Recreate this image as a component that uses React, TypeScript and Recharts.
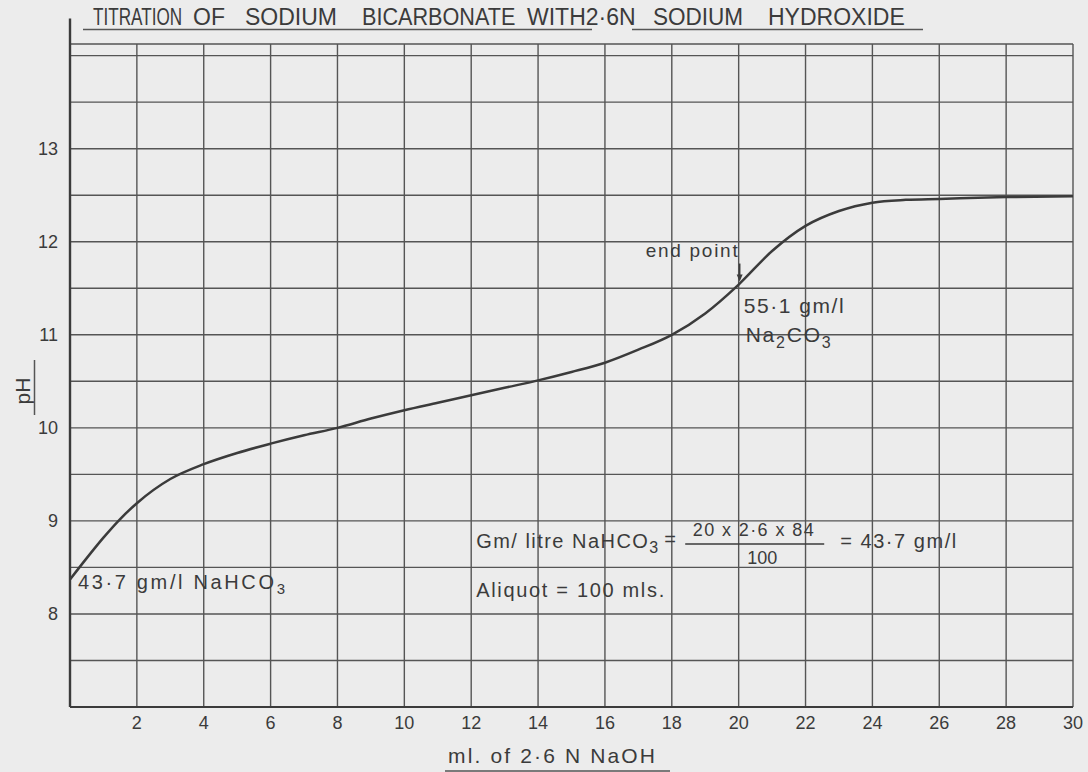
import React from 'react';
import {
  LineChart,
  Line,
  XAxis,
  YAxis,
  CartesianGrid,
  ReferenceLine,
  ReferenceDot,
} from 'recharts';

// ml of 2.6 N NaOH added
const mlValues = [0, 0.5, 1, 1.5, 2, 3, 4, 5, 6, 7, 8, 9, 10, 11, 12, 13, 14, 15, 16, 17, 18, 19, 20, 21, 22, 23, 24, 25, 26, 28, 30];
// measured pH
const phValues = [8.37, 8.6, 8.82, 9.02, 9.19, 9.45, 9.61, 9.73, 9.83, 9.92, 10.0, 10.1, 10.19, 10.27, 10.35, 10.43, 10.51, 10.6, 10.7, 10.84, 11.0, 11.23, 11.54, 11.9, 12.17, 12.33, 12.42, 12.45, 12.46, 12.48, 12.49];

const xTicks = [0, 2, 4, 6, 8, 10, 12, 14, 16, 18, 20, 22, 24, 26, 28, 30];
const yTicks = [7, 7.5, 8, 8.5, 9, 9.5, 10, 10.5, 11, 11.5, 12, 12.5, 13, 13.5, 14];
const yLabelled = [8, 9, 10, 11, 12, 13];

const endPoint = { ml: 20, ph: 11.54 };
const startPoint = { ml: 0, ph: 8.37 };
const formulaAnchor = { ml: 12.15, ph: 8.71 };

const data = mlValues.map((ml, i) => ({ ml, ph: phValues[i] }));

const INK = '#3b3b3b';
const GRID = '#555555';
const FONT = '"Liberation Sans", Arial, sans-serif';

const titleWords: { t: string; x: number; sx: number }[] = [
  { t: 'TITRATION', x: 93, sx: 0.745 },
  { t: 'OF', x: 193, sx: 1.0 },
  { t: 'SODIUM', x: 245, sx: 1.0 },
  { t: 'BICARBONATE', x: 362, sx: 0.94 },
  { t: 'WITH2·6N', x: 527, sx: 1.0 },
  { t: 'SODIUM', x: 653, sx: 0.98 },
  { t: 'HYDROXIDE', x: 768, sx: 1.0 },
];

const EndPointShape = (p: any) => {
  const { cx, cy } = p;
  return (
    <g fontFamily={FONT} fill={INK}>
      <text x={cx - 93} y={cy - 28} fontSize={19} textLength={92} lengthAdjust="spacing">end point</text>
      <line x1={cx + 1} y1={cy - 21} x2={cx + 1} y2={cy - 6} stroke={INK} strokeWidth={1.6} />
      <polygon points={`${cx - 2},${cy - 10} ${cx + 4},${cy - 10} ${cx + 1},${cy - 3}`} fill={INK} />
      <text x={cx + 5} y={cy + 28} fontSize={21} textLength={100} lengthAdjust="spacing">55·1 gm/l</text>
      <text x={cx + 7} y={cy + 57} fontSize={21} textLength={85} lengthAdjust="spacing">
        <tspan>Na</tspan>
        <tspan dy={6} fontSize={16}>2</tspan>
        <tspan dy={-6}>CO</tspan>
        <tspan dy={6} fontSize={16}>3</tspan>
      </text>
    </g>
  );
};

const StartShape = (p: any) => {
  const { cx, cy } = p;
  return (
    <g fontFamily={FONT} fill={INK}>
      <text x={cx + 8} y={cy + 9} fontSize={20} textLength={207} lengthAdjust="spacing">
        <tspan>43·7 gm/l NaHCO</tspan>
        <tspan dy={5} fontSize={15}>3</tspan>
      </text>
    </g>
  );
};

const FormulaShape = (p: any) => {
  const { cx, cy } = p;
  return (
    <g fontFamily={FONT} fill={INK}>
      <text x={cx} y={cy} fontSize={20} textLength={182} lengthAdjust="spacing">
        <tspan>Gm/ litre NaHCO</tspan>
        <tspan dy={5} fontSize={16}>3</tspan>
      </text>
      <text x={cx + 188} y={cy - 2} fontSize={20}>=</text>
      <text x={cx + 277} y={cy - 12} fontSize={18} textAnchor="middle" textLength={121} lengthAdjust="spacing">20 x 2·6 x 84</text>
      <line x1={cx + 209} y1={cy - 4} x2={cx + 348} y2={cy - 4} stroke={INK} strokeWidth={1.5} />
      <text x={cx + 286} y={cy + 16} fontSize={18} textAnchor="middle">100</text>
      <text x={cx + 364} y={cy} fontSize={20} textLength={116} lengthAdjust="spacing">= 43·7 gm/l</text>
      <text x={cx} y={cy + 49} fontSize={20} textLength={188} lengthAdjust="spacing">Aliquot = 100 mls.</text>
    </g>
  );
};

export default function App() {
  return (
    <div
      style={{
        position: 'absolute',
        left: 0,
        top: 0,
        width: 1088,
        height: 772,
        background: '#ececec',
        overflow: 'hidden',
      }}
    >
      <LineChart
        width={1088}
        height={772}
        data={data}
        margin={{ top: 44, right: 15, bottom: 0, left: 0 }}
      >
        <CartesianGrid stroke={GRID} strokeWidth={1.4} />
        <XAxis
          dataKey="ml"
          type="number"
          domain={[0, 30]}
          ticks={xTicks}
          tickLine={false}
          height={65}
          axisLine={{ stroke: INK, strokeWidth: 2.2 }}
          tick={{ fill: INK, fontSize: 18, fontFamily: FONT }}
          tickFormatter={(v: number) => (v === 0 ? '' : String(v))}
          tickMargin={3}
        />
        <YAxis
          type="number"
          domain={[7, 14.125]}
          ticks={yTicks}
          width={70}
          tickLine={false}
          axisLine={false}
          tick={{ fill: INK, fontSize: 18, fontFamily: FONT }}
          tickFormatter={(v: number) => (yLabelled.includes(v) ? String(v) : '')}
          tickMargin={6}
        />
        <ReferenceLine
          segment={[{ x: 0, y: 7 }, { x: 0, y: 14.4 }]}
          stroke={INK}
          strokeWidth={2.4}
          ifOverflow="visible"
        />
        <Line
          type="monotone"
          dataKey="ph"
          stroke={INK}
          strokeWidth={2.5}
          dot={false}
          isAnimationActive={false}
        />
        <ReferenceDot x={endPoint.ml} y={endPoint.ph} r={0} ifOverflow="visible" shape={EndPointShape} />
        <ReferenceDot x={startPoint.ml} y={startPoint.ph} r={0} ifOverflow="visible" shape={StartShape} />
        <ReferenceDot x={formulaAnchor.ml} y={formulaAnchor.ph} r={0} ifOverflow="visible" shape={FormulaShape} />
      </LineChart>
      <svg
        width={1088}
        height={772}
        style={{ position: 'absolute', left: 0, top: 0, pointerEvents: 'none' }}
      >
        <g fontFamily={FONT} fill={INK}>
          {titleWords.map((w, i) => (
            <text key={i} x={0} y={0} fontSize={23} transform={`translate(${w.x},25) scale(${w.sx},1)`}>
              {w.t}
            </text>
          ))}
          <line x1={83} y1={29.5} x2={592} y2={29.5} stroke={GRID} strokeWidth={1.5} />
          <line x1={632} y1={29.5} x2={923} y2={29.5} stroke={GRID} strokeWidth={1.5} />
          <text x={448} y={763} fontSize={21} textLength={207} lengthAdjust="spacing">ml. of 2·6 N  NaOH</text>
          <line x1={445} y1={771} x2={670} y2={771} stroke={GRID} strokeWidth={1.5} />
          <text
            x={0}
            y={0}
            fontSize={21}
            textAnchor="middle"
            transform="translate(30,391) rotate(-90)"
          >
            pH
          </text>
          <line x1={34.5} y1={360} x2={34.5} y2={415} stroke={GRID} strokeWidth={1.5} />
        </g>
      </svg>
    </div>
  );
}
